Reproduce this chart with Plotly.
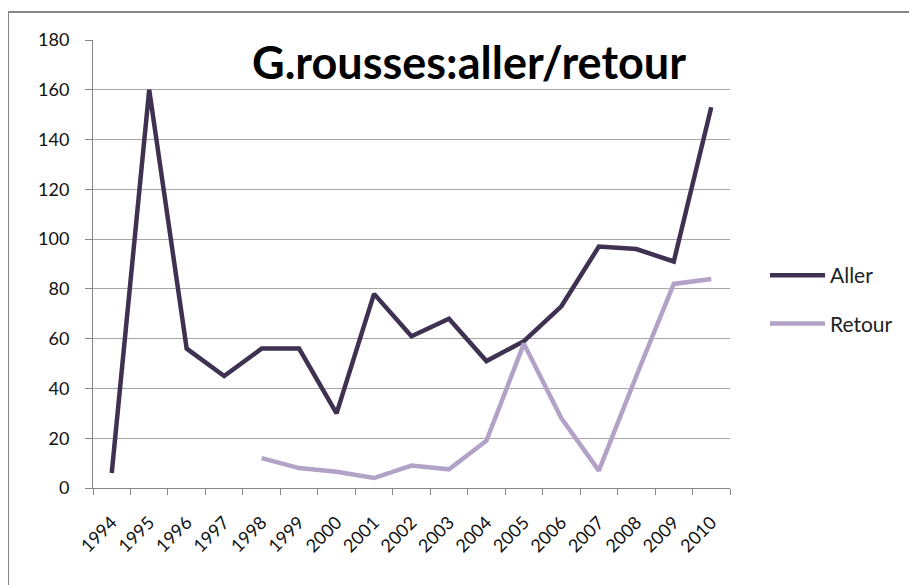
import plotly.graph_objects as go

years = [str(y) for y in range(1994, 2011)]
aller = [6, 160, 56, 45, 56, 56, 30, 78, 61, 68, 51, 59, 73, 97, 96, 91, 153]
retour = [None, None, None, None, 12, 8, 6.5, 4, 9, 7.5, 19, 58, 28, 7, 45, 82, 84]
y_ticks = [0, 20, 40, 60, 80, 100, 120, 140, 160, 180]

# page has an 8px body margin; work in figure coordinates = page - 8
OFF = 8
W, H = 909, 577
L, T = 93 - OFF, 40 - OFF
pw, ph = 637, 448
R, B = W - L - pw, H - T - ph


def px(xp):
    return (xp - OFF - L) / pw


def py(yp):
    return (T + ph - (yp - OFF)) / ph


fig = go.Figure()
fig.add_trace(go.Scatter(x=years, y=aller, name="Aller", mode="lines",
                         line=dict(color="#3f3151", width=4.5), legendgroup="a"))
fig.add_trace(go.Scatter(x=years, y=retour, name="Retour", mode="lines",
                         line=dict(color="#b3a2c7", width=4.5), legendgroup="r"))

fig.update_layout(
    width=W, height=H,
    margin=dict(l=L, r=R, t=T, b=B, autoexpand=False),
    paper_bgcolor="white", plot_bgcolor="white",
    font=dict(family="Lato, sans-serif", color="#000000"),
    showlegend=True,
    legend=dict(x=px(765), y=py(255), xanchor="left", yanchor="top",
                font=dict(size=21, color="#222"), tracegroupgap=18,
                bgcolor="rgba(0,0,0,0)", itemwidth=55),
    xaxis=dict(type="category", range=[-0.5, 16.5], tickson="boundaries",
               showgrid=False, showline=True, linecolor="#868686", linewidth=1,
               ticks="outside", ticklen=6, tickcolor="#868686",
               ticklabelstandoff=16,
               tickangle=-45, tickfont=dict(size=18, color="#111")),
    yaxis=dict(range=[0, 180], tickvals=y_ticks, showgrid=True, gridcolor="#a6a6a6",
               gridwidth=1, showline=True, linecolor="#868686", linewidth=1,
               ticks="outside", ticklen=7, tickcolor="#868686", zeroline=False,
               ticklabelstandoff=12, tickfont=dict(size=18, color="#111")),
    annotations=[dict(text="<b>G.rousses:aller/retour</b>", xref="paper", yref="paper",
                      x=px(469), y=py(62), xanchor="center", yanchor="middle",
                      showarrow=False, font=dict(size=45, color="#000", family="Lato, sans-serif"))],
    shapes=[dict(type="rect", xref="paper", yref="paper",
                 x0=px(8), x1=px(960), y0=py(640), y1=py(12),
                 line=dict(color="#868686", width=2), fillcolor="rgba(0,0,0,0)", layer="below")],
)

fig.write_html("out.html")
